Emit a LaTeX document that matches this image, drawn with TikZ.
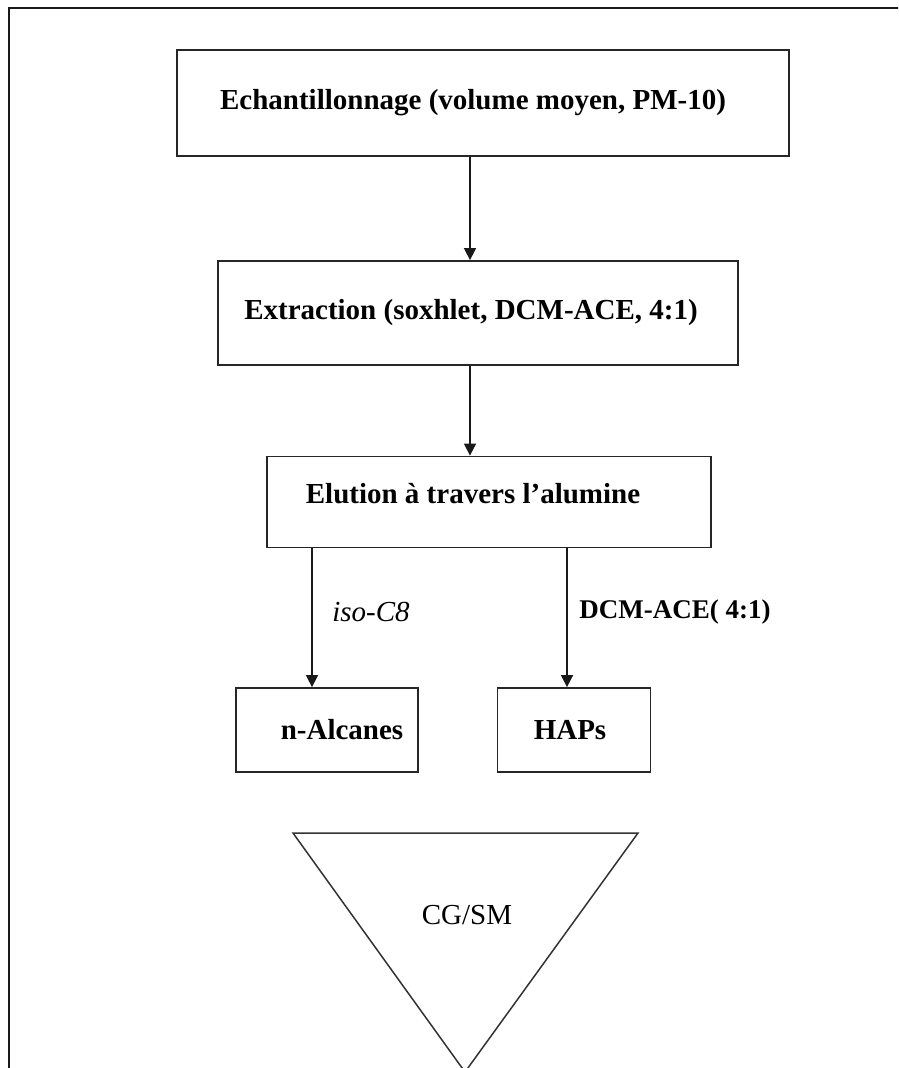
\documentclass[tikz,border=0pt]{standalone}
\usepackage{fontspec}
\setmainfont{Liberation Serif}
\usetikzlibrary{arrows.meta,positioning}

\begin{document}
\begin{tikzpicture}[x=1pt,y=-1pt,
  box/.style={draw=black!85,line width=1.8pt,inner sep=0pt,align=center,
              font=\fontsize{29}{33}\selectfont\bfseries},
  lab/.style={font=\fontsize{29}{33}\selectfont,inner sep=0pt},
  e/.style={-{Triangle[length=12pt,width=12pt]},line width=1.6pt,draw=black!90}]

\useasboundingbox (0,0) rectangle (898,1068);
\clip (0,0) rectangle (898,1068);

% ---- outer frame (cut at right and bottom) ----
\draw[line width=2.8pt,black!90] (9,1080) -- (9,8) -- (910,8);

% ---- main steps ----
\node[box,minimum width=612pt,minimum height=106pt] (ech) at (483,103)
  {\raisebox{2pt}{Echantillonnage (volume moyen, PM-10)}\hspace{20pt}};
\node[box,minimum width=520pt,minimum height=104pt] (ext) at (478,313)
  {Extraction (soxhlet, DCM-ACE,\ 4:1)\hspace{14pt}};
\node[box,minimum width=444pt,minimum height=91pt] (elu) at (489,502)
  {\raisebox{18pt}{Elution à travers l’alumine}\hspace{32pt}};

% ---- fractions ----
\node[box,minimum width=182pt,minimum height=84pt] (alc) at (327,730) {\hspace{30pt}n-Alcanes};
\node[box,minimum width=153pt,minimum height=84pt] (hap) at (574,730) {HAPs\hspace{8pt}};

\node[lab,font=\fontsize{29}{33}\selectfont\itshape] (iso) at (371,612) {iso-C8};
\node[lab,font=\fontsize{27}{33}\selectfont\bfseries] (dcm) at (675,612) {DCM-ACE( 4:1)};

% ---- analysis ----
\draw[line width=1.5pt,black!80] (293,833) -- (638,833) -- (465,1072) -- cycle;
\node[lab] (cgsm) at (467,915) {CG/SM};

\draw[e] (ech.south -| 470,0) -- (ext.north -| 470,0);
\draw[e] (ext.south -| 470,0) -- (elu.north -| 470,0);
\draw[e] (elu.south -| 312,0) -- (alc.north -| 312,0);
\draw[e] (elu.south -| 567,0) -- (hap.north -| 567,0);
\end{tikzpicture}
\end{document}
